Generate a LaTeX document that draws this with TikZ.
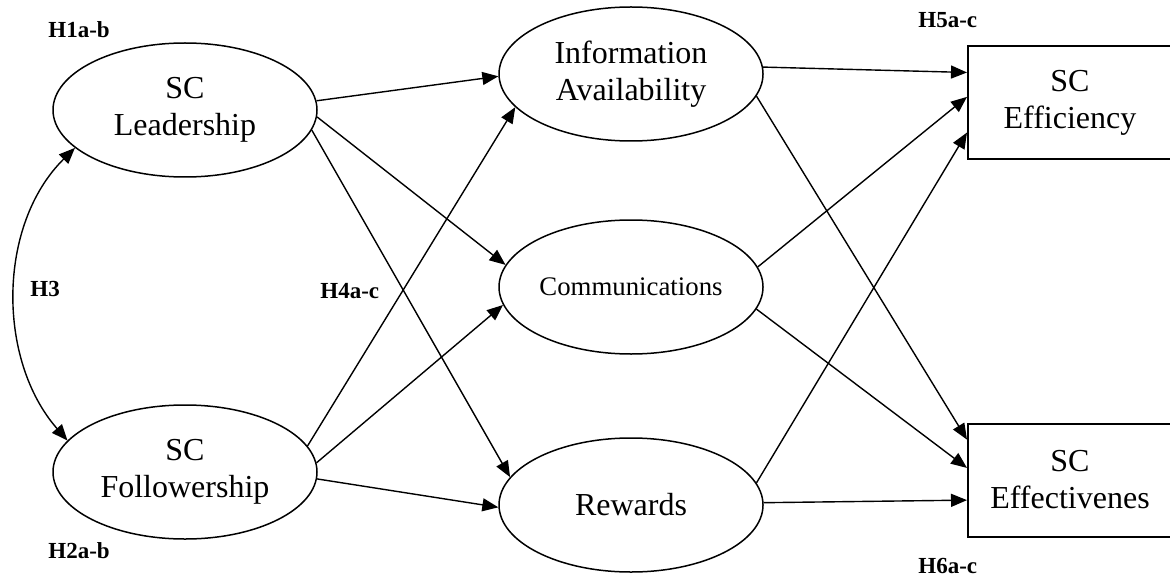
\documentclass[tikz,border=0pt]{standalone}
\usepackage{fontspec}
\setmainfont{Liberation Serif}
\usetikzlibrary{shapes.geometric,arrows.meta,calc}
\begin{document}
\begin{tikzpicture}[x=0.5pt,y=-0.5pt,
  latent/.style={draw,ellipse,line width=0.75pt,minimum width=132pt,minimum height=67pt,inner sep=0pt,align=center,font=\fontsize{16}{18.5}\selectfont},
  outcome/.style={draw,rectangle,line width=1pt,minimum width=102pt,minimum height=56.5pt,inner sep=0pt,align=center,font=\fontsize{16}{18.5}\selectfont},
  hyp/.style={anchor=base west,inner sep=0pt,font=\fontsize{11.5}{13}\selectfont\bfseries},
  tip/.tip={Triangle[length=8pt,width=6.5pt]},
  rel/.style={-tip,line width=0.7pt}
]
\useasboundingbox (0,0) rectangle (1170,577);
% constructs
\node[latent] (lead) at (185,110) {SC\\Leadership};
\node[latent] (fol) at (185,472) {SC\\Followership};
\node[latent] (info) at (631,74) {Information\\Availability};
\node[latent,font=\fontsize{13.4}{16}\selectfont] (comm) at (631,287) {Communications};
\node[latent] (rew) at (631,505) {Rewards};
\node[outcome] (eff) at (1070,102.5) {SC\\Efficiency};
\node[outcome] (effe) at (1070,480) {SC\\Effectivenes};
% hypothesis labels
\node[hyp] (h1) at (48,38) {H1a-b};
\node[hyp] (h3) at (30,296) {H3};
\node[hyp] (h4) at (320,298) {H4a-c};
\node[hyp] (h2) at (48,558) {H2a-b};
\node[hyp] (h5) at (918,28) {H5a-c};
\node[hyp] (h6) at (918,573) {H6a-c};
% H3 correlation
\draw[tip-tip,line width=0.7pt] (lead.199) .. controls (-3,225) and (-3,360) .. (fol.165);
% leadership / followership paths
\draw[rel] (lead.4) -- (info.181.3);
\draw[rel] (lead.-3.5) -- (comm.170);
\draw[rel] (lead.-9) -- (rew.167.4);
\draw[rel] (fol.12.1) -- (info.196.6);
\draw[rel] (fol.4.4) -- (comm.188);
\draw[rel] (fol.-3.5) -- (rew.181.3);
% mediator paths
\draw[rel] (info.3.9) -- ($(eff.north west)!0.239!(eff.south west)$);
\draw[rel] (comm.9) -- ($(eff.north west)!0.451!(eff.south west)$);
\draw[rel] (rew.10.5) -- ($(eff.north west)!0.761!(eff.south west)$);
\draw[rel] (info.-10.5) -- ($(effe.north west)!0.149!(effe.south west)$);
\draw[rel] (comm.-10.5) -- ($(effe.north west)!0.395!(effe.south west)$);
\draw[rel] (rew.1) -- ($(effe.north west)!0.675!(effe.south west)$);
\end{tikzpicture}
\end{document}
